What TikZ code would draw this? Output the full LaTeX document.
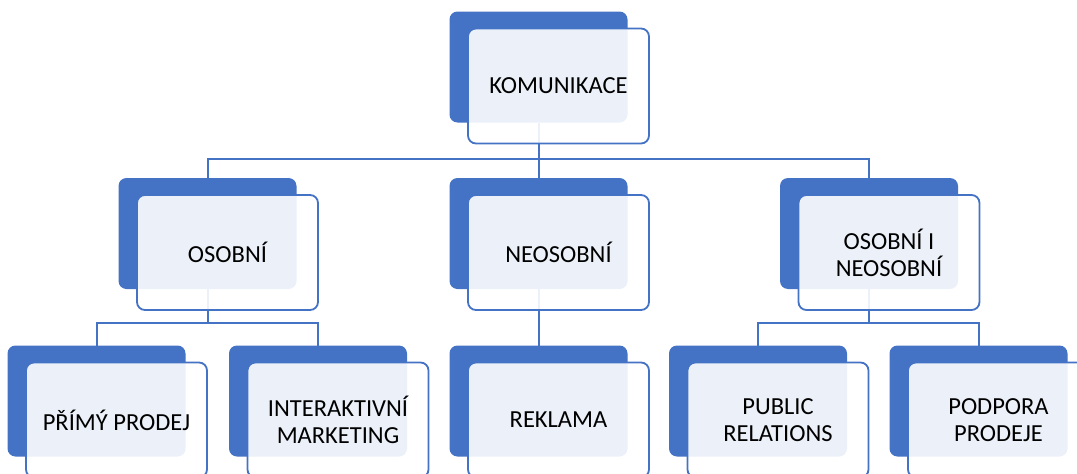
\documentclass[tikz,border=0pt]{standalone}
\usepackage{fontspec}
\setmainfont{Carlito}
\definecolor{myblue}{HTML}{4472C4}
\pgfdeclarelayer{bg}
\pgfsetlayers{bg,main}
\tikzset{
  backbox/.style={fill=myblue, rounded corners=8pt, minimum width=178pt, minimum height=111pt, inner sep=0pt, outer sep=0pt},
  frontbox/.style={draw=myblue, line width=1.8pt, fill=white, fill opacity=0.9, text opacity=1, rounded corners=8pt, minimum width=181pt, minimum height=115pt, inner sep=0pt, outer sep=0pt, align=center, font=\fontsize{24.5}{27}\selectfont},
  conn/.style={draw=myblue, line width=2pt}
}
\newcommand\elem[4]{%
  \node[backbox] (#1b) at (#2,#3) {};
  \node[frontbox] (#1) at (#2+20,#3+19) {#4};
}
\begin{document}
\begin{tikzpicture}[x=1pt,y=-1pt]
\useasboundingbox (0,0) rectangle (1077,474);
\elem{k}{538.5}{67}{KOMUNIKACE}
\elem{o}{207.5}{233.5}{OSOBNÍ}
\elem{n}{538.5}{233.5}{NEOSOBNÍ}
\elem{p}{869}{233.5}{OSOBNÍ I\\NEOSOBNÍ}
\elem{a}{96.5}{401}{PŘÍMÝ PRODEJ}
\elem{b}{318}{401}{INTERAKTIVNÍ\\MARKETING}
\elem{c}{538.5}{401}{REKLAMA}
\elem{d}{758}{401}{PUBLIC\\RELATIONS}
\elem{e}{978.5}{401}{PODPORA\\PRODEJE}
\coordinate (bus1) at (538.5,159);
\coordinate (bus2) at (207.5,323);
\coordinate (bus3) at (869,323);
\begin{pgfonlayer}{bg}
\draw[conn] (kb.south) -- (bus1);
\draw[conn] (ob.north) |- (bus1) -| (pb.north);
\draw[conn] (bus1) -- (nb.north);
\draw[conn] (ob.south) -- (bus2);
\draw[conn] (ab.north) |- (bus2) -| (bb.north);
\draw[conn] (nb.south) -- (cb.north);
\draw[conn] (pb.south) -- (bus3);
\draw[conn] (db.north) |- (bus3) -| (eb.north);
\end{pgfonlayer}
\end{tikzpicture}
\end{document}
